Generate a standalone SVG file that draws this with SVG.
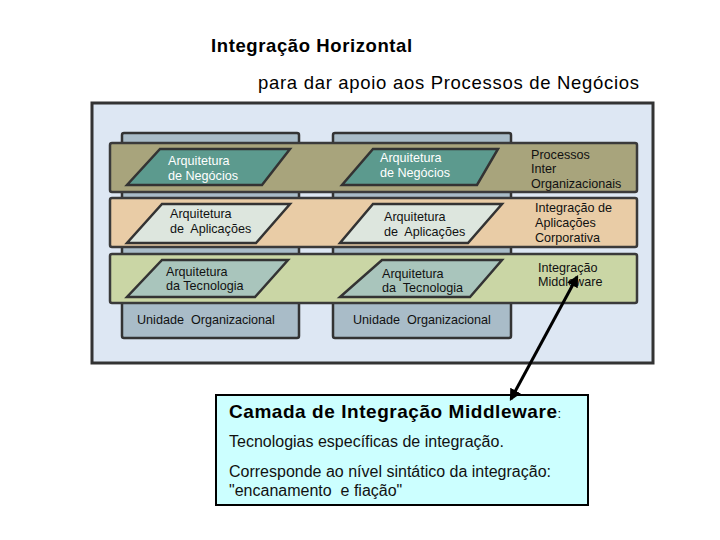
<svg xmlns="http://www.w3.org/2000/svg" width="720" height="540" viewBox="0 0 720 540">
<defs>
<style>
text{font-family:"Liberation Sans",Arial,sans-serif;white-space:pre;}
.col{fill:#a9bcc8;stroke:#333;stroke-width:2.5;}
.band{stroke:#3a3a3a;stroke-width:2.5;}
.par{stroke:#333;stroke-width:2.5;}
.in{font-size:12.6px;fill:#111;}
.inw{font-size:12.6px;fill:#fff;}
.lab{font-size:12.6px;fill:#111;}
</style>
<marker id="ah" viewBox="0 0 10 10" refX="8" refY="5" markerWidth="4" markerHeight="4" orient="auto-start-reverse">
<path d="M0,0 L10,5 L0,10 z" fill="#000"/>
</marker>
</defs>
<rect width="720" height="540" fill="#fff"/>
<g id="title">
<text x="211" y="52" font-size="18.5" font-weight="bold" letter-spacing="0.6" fill="#000">Integração Horizontal</text>
<text x="258" y="89" font-size="18.5" letter-spacing="0.7" fill="#000">para dar apoio aos Processos de Negócios</text>
</g>
<g id="panel">
<rect x="92" y="103" width="561" height="260" fill="#dde7f3" stroke="#333" stroke-width="3"/>
</g>
<g id="col-left">
<rect class="col" x="122" y="133" width="177" height="205" rx="2"/>
<text x="137" y="324" class="in">Unidade  Organizacional</text>
</g>
<g id="col-right">
<rect class="col" x="333" y="133" width="178" height="205" rx="2"/>
<text x="353" y="324" class="in">Unidade  Organizacional</text>
</g>
<g id="band-negocios">
<rect class="band" x="110" y="143" width="527" height="49" fill="#a8a47c" rx="2"/>
<polygon class="par" points="160,149 290,149 262,185 127,185" fill="#5c9a8e"/>
<text x="168" y="165" class="inw">Arquitetura</text>
<text x="168" y="180" class="inw">de Negócios</text>
<polygon class="par" points="373,149 498,149 477,185 342,185" fill="#5c9a8e"/>
<text x="380" y="162" class="inw">Arquitetura</text>
<text x="380" y="177" class="inw">de Negócios</text>
<text x="531" y="159" class="lab">Processos</text>
<text x="531" y="173" class="lab">Inter</text>
<text x="531" y="188" class="lab">Organizacionais</text>
</g>
<g id="band-aplicacoes">
<rect class="band" x="110" y="198" width="527" height="49" fill="#e9cca6" rx="2"/>
<polygon class="par" points="162,204 290,204 256,243 127,243" fill="#dde6de"/>
<text x="170" y="218" class="in">Arquitetura</text>
<text x="170" y="233" class="in">de  Aplicações</text>
<polygon class="par" points="373,204 502,204 468,243 340,243" fill="#dde6de"/>
<text x="384" y="221" class="in">Arquitetura</text>
<text x="384" y="236" class="in">de  Aplicações</text>
<text x="535" y="212" class="lab">Integração de</text>
<text x="535" y="227" class="lab">Aplicações</text>
<text x="535" y="242" class="lab">Corporativa</text>
</g>
<g id="band-tecnologia">
<rect class="band" x="110" y="254" width="527" height="49" fill="#cad6a5" rx="2"/>
<polygon class="par" points="162,260 288,260 255,297 127,297" fill="#a9c5bc"/>
<text x="166" y="276" class="in">Arquitetura</text>
<text x="166" y="290" class="in">da Tecnologia</text>
<polygon class="par" points="382,260 502,260 470,297 340,297" fill="#a9c5bc"/>
<text x="382" y="278" class="in">Arquitetura</text>
<text x="382" y="292" class="in">da  Tecnologia</text>
<text x="538" y="272" class="lab">Integração</text>
<text x="538" y="286" class="lab">Middleware</text>
</g>
<g id="note">
<rect x="216" y="395" width="372" height="110" fill="#ccffff" stroke="#000" stroke-width="2"/>
<text x="229" y="418" font-size="19" font-weight="bold" letter-spacing="0.55" fill="#000">Camada de Integração Middleware<tspan font-weight="normal" font-size="13">:</tspan></text>
<text x="229" y="447" font-size="16" fill="#111">Tecnologias específicas de integração.</text>
<text x="229" y="477" font-size="16" fill="#111">Corresponde ao nível sintático da integração:</text>
<text x="229" y="496" font-size="16" fill="#111">"encanamento  e fiação"</text>
</g>
<g id="connectors">
<line x1="511" y1="399" x2="577" y2="277" stroke="#000" stroke-width="3" marker-start="url(#ah)" marker-end="url(#ah)"/>
</g>
</svg>
